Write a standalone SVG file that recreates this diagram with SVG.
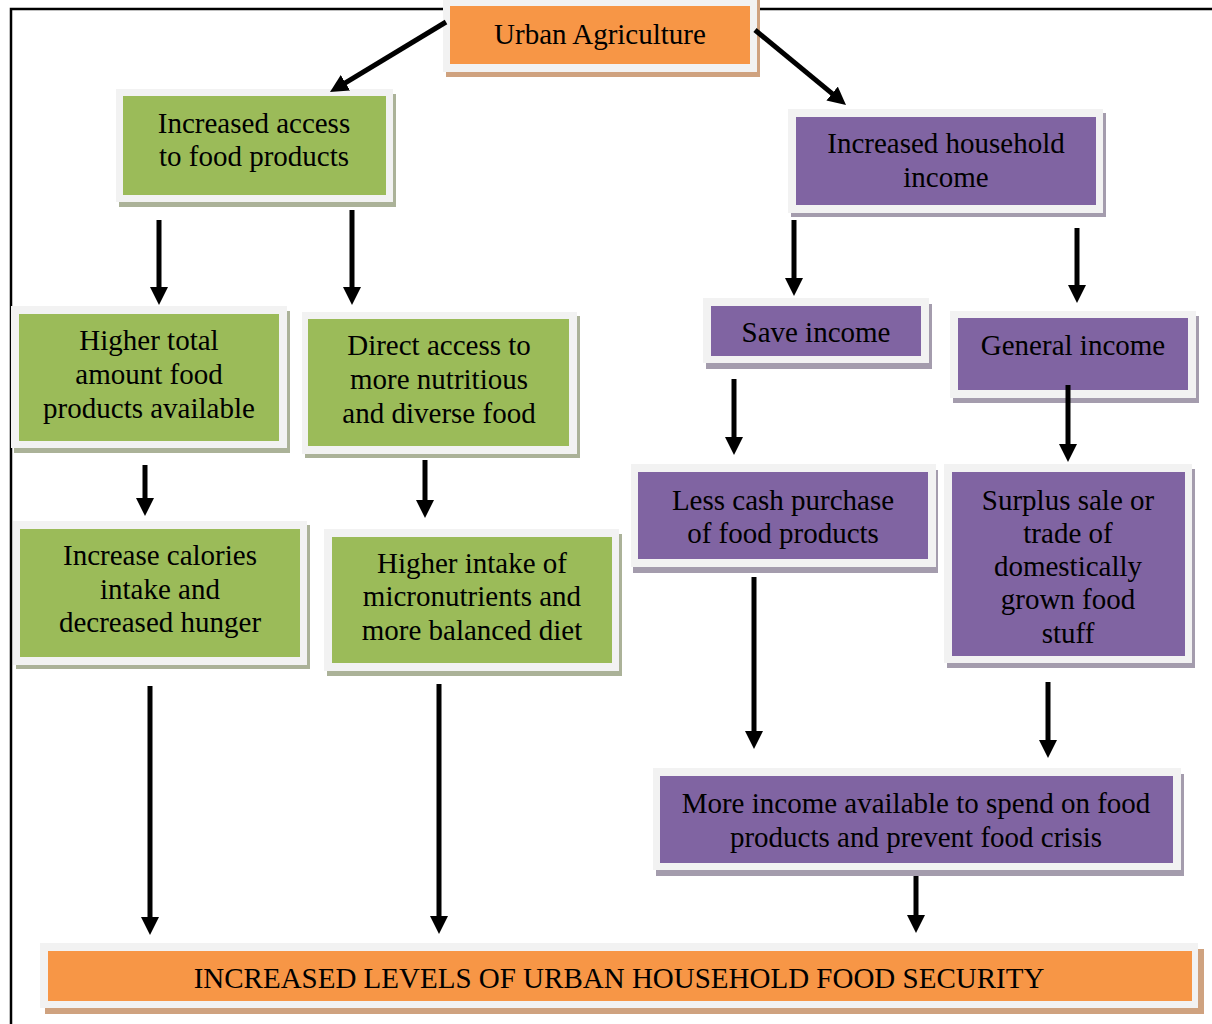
<svg xmlns="http://www.w3.org/2000/svg" width="1212" height="1024" viewBox="0 0 1212 1024">
<defs>
<style>
.frame{fill:#f2f2f2}
.g{fill:#9bbb59}
.p{fill:#8064a2}
.o{fill:#f79646}
.gs{fill:#abb298}
.ps{fill:#a49cad}
.os{fill:#cfa27f}
text{font-family:"Liberation Serif","Times New Roman",serif;font-size:29px;fill:#000;text-anchor:middle}
.c{stroke:#000;stroke-width:5;fill:none}
.border{stroke:#000;stroke-width:2.5;fill:none}
</style>
<marker id="ah" markerUnits="userSpaceOnUse" markerWidth="18" markerHeight="18" refX="4" refY="9" orient="auto">
<path d="M0,0 L18,9 L0,18 z" fill="#000"/>
</marker>
</defs>
<rect width="1212" height="1024" fill="#fff"/>
<g id="border">
<path class="border" d="M11,1024 V9 H1212"/>
</g>
<g id="urban-agriculture">
<rect class="os" x="446" y="0" width="314" height="77"/>
<rect class="frame" x="443" y="-5" width="314" height="77"/>
<rect class="o" x="450" y="6" width="300" height="58"/>
<text x="600" y="44">Urban Agriculture</text>
</g>
<g id="increased-access">
<rect class="gs" x="119" y="94" width="277" height="113"/>
<rect class="frame" x="116" y="89" width="277" height="113"/>
<rect class="g" x="123" y="96" width="263" height="99"/>
<text x="254" y="133">Increased access</text>
<text x="254" y="166">to food products</text>
</g>
<g id="household-income">
<rect class="ps" x="791" y="113" width="315" height="104"/>
<rect class="frame" x="788" y="109" width="315" height="104"/>
<rect class="p" x="796" y="117" width="300" height="88"/>
<text x="946" y="153">Increased household</text>
<text x="946" y="187">income</text>
</g>
<g id="higher-total">
<rect class="gs" x="14" y="311" width="276" height="142"/>
<rect class="frame" x="11" y="306" width="276" height="142"/>
<rect class="g" x="19" y="314" width="260" height="127"/>
<text x="149" y="350">Higher total</text>
<text x="149" y="384">amount food</text>
<text x="149" y="418">products available</text>
</g>
<g id="direct-access">
<rect class="gs" x="305" y="316" width="275" height="142"/>
<rect class="frame" x="302" y="312" width="275" height="142"/>
<rect class="g" x="308" y="319" width="261" height="127"/>
<text x="439" y="355">Direct access to</text>
<text x="439" y="389">more nutritious</text>
<text x="439" y="423">and diverse food</text>
</g>
<g id="increase-calories">
<rect class="gs" x="16" y="525" width="294" height="144"/>
<rect class="frame" x="13" y="521" width="294" height="144"/>
<rect class="g" x="20" y="529" width="280" height="128"/>
<text x="160" y="565">Increase calories</text>
<text x="160" y="599">intake and</text>
<text x="160" y="632">decreased hunger</text>
</g>
<g id="higher-intake">
<rect class="gs" x="327" y="534" width="295" height="142"/>
<rect class="frame" x="324" y="529" width="295" height="142"/>
<rect class="g" x="332" y="537" width="280" height="126"/>
<text x="472" y="573">Higher intake of</text>
<text x="472" y="606">micronutrients and</text>
<text x="472" y="640">more balanced diet</text>
</g>
<g id="save-income">
<rect class="ps" x="706" y="304" width="226" height="65"/>
<rect class="frame" x="703" y="298" width="226" height="65"/>
<rect class="p" x="711" y="306" width="210" height="50"/>
<text x="816" y="342">Save income</text>
</g>
<g id="general-income">
<rect class="ps" x="953" y="316" width="246" height="87"/>
<rect class="frame" x="950" y="311" width="246" height="87"/>
<rect class="p" x="958" y="318" width="230" height="72"/>
<text x="1073" y="355">General income</text>
</g>
<g id="less-cash">
<rect class="ps" x="633" y="470" width="305" height="103"/>
<rect class="frame" x="631" y="464" width="305" height="103"/>
<rect class="p" x="638" y="472" width="290" height="87"/>
<text x="783" y="510">Less cash purchase</text>
<text x="783" y="543">of food products</text>
</g>
<g id="surplus-sale">
<rect class="ps" x="947" y="469" width="248" height="199"/>
<rect class="frame" x="944" y="464" width="248" height="199"/>
<rect class="p" x="952" y="472" width="233" height="184"/>
<text x="1068" y="510">Surplus sale or</text>
<text x="1068" y="543">trade of</text>
<text x="1068" y="576">domestically</text>
<text x="1068" y="609">grown food</text>
<text x="1068" y="643">stuff</text>
</g>
<g id="more-income">
<rect class="ps" x="656" y="774" width="528" height="102"/>
<rect class="frame" x="653" y="768" width="528" height="102"/>
<rect class="p" x="660" y="776" width="513" height="87"/>
<text x="916" y="813">More income available to spend on food</text>
<text x="916" y="847">products and prevent food crisis</text>
</g>
<g id="food-security">
<rect class="os" x="45" y="949" width="1159" height="65"/>
<rect class="frame" x="40" y="943" width="1158" height="65"/>
<rect class="o" x="48" y="951" width="1144" height="50"/>
<text x="619" y="988">INCREASED LEVELS OF URBAN HOUSEHOLD FOOD SECURITY</text>
</g>
<g id="connectors">
<line class="c" x1="446" y1="22" x2="342" y2="84.8" marker-end="url(#ah)"/>
<line class="c" x1="755" y1="30" x2="835.2" y2="96.1" marker-end="url(#ah)"/>
<line class="c" x1="159" y1="220" x2="159" y2="291" marker-end="url(#ah)"/>
<line class="c" x1="352" y1="210" x2="352" y2="291" marker-end="url(#ah)"/>
<line class="c" x1="794" y1="220" x2="794" y2="282" marker-end="url(#ah)"/>
<line class="c" x1="1077" y1="228" x2="1077" y2="289" marker-end="url(#ah)"/>
<line class="c" x1="145" y1="465" x2="145" y2="502" marker-end="url(#ah)"/>
<line class="c" x1="425" y1="460" x2="425" y2="504" marker-end="url(#ah)"/>
<line class="c" x1="734" y1="379" x2="734" y2="441" marker-end="url(#ah)"/>
<line class="c" x1="1068" y1="385" x2="1068" y2="448" marker-end="url(#ah)"/>
<line class="c" x1="754" y1="577" x2="754" y2="735" marker-end="url(#ah)"/>
<line class="c" x1="1048" y1="682" x2="1048" y2="744" marker-end="url(#ah)"/>
<line class="c" x1="150" y1="686" x2="150" y2="921" marker-end="url(#ah)"/>
<line class="c" x1="439" y1="684" x2="439" y2="920" marker-end="url(#ah)"/>
<line class="c" x1="916" y1="876" x2="916" y2="919" marker-end="url(#ah)"/>
</g>
</svg>
